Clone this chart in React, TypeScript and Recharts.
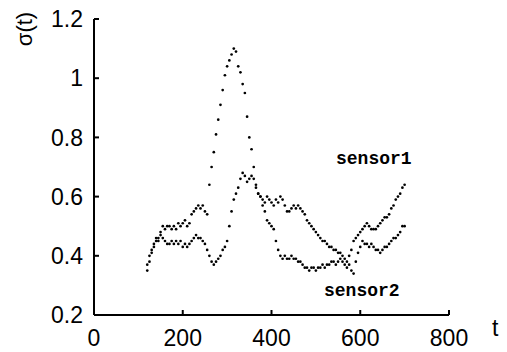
import React from 'react';
import { ScatterChart, Scatter, XAxis, YAxis } from 'recharts';

// sample times (t)
const times = [
  120, 125, 130, 135, 140, 145, 150, 155, 160, 165, 170, 175, 180, 185, 190, 195,
  200, 205, 210, 215, 220, 225, 230, 235, 240, 245, 250, 255, 260, 265, 270, 275,
  280, 285, 290, 295, 300, 305, 310, 315, 320, 325, 330, 335, 340, 345, 350, 355,
  360, 365, 370, 375, 380, 385, 390, 395, 400, 405, 410, 415, 420, 425, 430, 435,
  440, 445, 450, 455, 460, 465, 470, 475, 480, 485, 490, 495, 500, 505, 510, 515,
  520, 525, 530, 535, 540, 545, 550, 555, 560, 565, 570, 575, 580, 585, 590, 595,
  600, 605, 610, 615, 620, 625, 630, 635, 640, 645, 650, 655, 660, 665, 670, 675,
  680, 685, 690, 695, 700,
];

const sensor1 = [
  0.37, 0.40, 0.41, 0.43, 0.45, 0.46, 0.48, 0.50, 0.49, 0.50, 0.50, 0.49, 0.50, 0.49, 0.51, 0.50,
  0.51, 0.52, 0.50, 0.51, 0.54, 0.55, 0.56, 0.57, 0.56, 0.57, 0.55, 0.54, 0.64, 0.70, 0.75, 0.81,
  0.86, 0.91, 0.96, 1.01, 1.04, 1.06, 1.08, 1.10, 1.09, 1.04, 1.02, 0.98, 0.95, 0.87, 0.80, 0.76,
  0.70, 0.64, 0.61, 0.60, 0.59, 0.58, 0.60, 0.59, 0.58, 0.57, 0.59, 0.58, 0.60, 0.59, 0.57, 0.55,
  0.55, 0.56, 0.57, 0.56, 0.57, 0.56, 0.55, 0.54, 0.52, 0.51, 0.50, 0.49, 0.48, 0.47, 0.46, 0.45,
  0.45, 0.44, 0.43, 0.43, 0.42, 0.42, 0.41, 0.41, 0.40, 0.39, 0.38, 0.40, 0.42, 0.45, 0.46, 0.47,
  0.48, 0.49, 0.50, 0.51, 0.50, 0.49, 0.49, 0.49, 0.50, 0.51, 0.52, 0.53, 0.53, 0.54, 0.56, 0.57,
  0.59, 0.60, 0.61, 0.63, 0.64,
];

const sensor2 = [
  0.35, 0.38, 0.42, 0.44, 0.46, 0.45, 0.47, 0.46, 0.45, 0.44, 0.44, 0.45, 0.44, 0.45, 0.44, 0.45,
  0.43, 0.44, 0.43, 0.44, 0.45, 0.46, 0.47, 0.46, 0.46, 0.45, 0.44, 0.42, 0.40, 0.38, 0.37, 0.38,
  0.39, 0.40, 0.42, 0.43, 0.45, 0.50, 0.55, 0.59, 0.61, 0.63, 0.66, 0.68, 0.67, 0.65, 0.66, 0.67,
  0.66, 0.63, 0.61, 0.60, 0.57, 0.55, 0.52, 0.51, 0.50, 0.49, 0.45, 0.42, 0.40, 0.39, 0.40, 0.39,
  0.39, 0.40, 0.39, 0.39, 0.38, 0.38, 0.37, 0.36, 0.36, 0.35, 0.36, 0.36, 0.35, 0.36, 0.36, 0.37,
  0.36, 0.37, 0.37, 0.38, 0.38, 0.37, 0.38, 0.39, 0.38, 0.37, 0.36, 0.37, 0.35, 0.34, 0.38, 0.41,
  0.43, 0.45, 0.44, 0.44, 0.43, 0.44, 0.43, 0.42, 0.42, 0.41, 0.42, 0.43, 0.43, 0.44, 0.45, 0.46,
  0.46, 0.47, 0.48, 0.50, 0.50,
];

const xTicks = [0, 200, 400, 600, 800];
const yTicks = [0.2, 0.4, 0.6, 0.8, 1, 1.2];

const s1Data = times.map((t, i) => ({ t, v: sensor1[i] }));
const s2Data = times.map((t, i) => ({ t, v: sensor2[i] }));

const FONT = 'Arial, "Liberation Sans", sans-serif';
const MONO = '"Liberation Mono", "Courier New", monospace';

const Dot = (props: any) => <circle cx={props.cx} cy={props.cy} r={1.35} fill="#000" />;

// label plus a short inward tick mark, drawn from the tick's own position
const YTick = (props: any) => {
  const { x, y, payload } = props;
  return (
    <g>
      <path d={`M${x + 11},${y}h5`} stroke="#000" strokeWidth={2} fill="none" />
      <text x={x} y={y} dy="0.36em" textAnchor="end" fontSize={23} fontFamily={FONT} fill="#000">
        {String(payload.value)}
      </text>
    </g>
  );
};

const XTick = (props: any) => {
  const { x, y, payload } = props;
  return (
    <g>
      <path d={`M${x},${y - 2}v-5`} stroke="#000" strokeWidth={2} fill="none" />
      <text x={x} y={y + 29} textAnchor="middle" fontSize={23} fontFamily={FONT} fill="#000">
        {String(payload.value)}
      </text>
    </g>
  );
};

const label: React.CSSProperties = { position: 'absolute', color: '#000', lineHeight: 1, whiteSpace: 'nowrap' };

export default function App() {
  return (
    <div style={{ position: 'absolute', left: 0, top: 0, width: 507, height: 352, background: '#fff' }}>
      <ScatterChart width={507} height={352} margin={{ top: 19, right: 58, bottom: 7, left: 34 }}>
        <XAxis
          type="number"
          dataKey="t"
          domain={[0, 800]}
          ticks={xTicks}
          height={30}
          tickSize={0}
          tickMargin={2}
          tickLine={false}
          axisLine={{ stroke: '#000', strokeWidth: 2 }}
          tick={<XTick />}
          interval={0}
        />
        <YAxis
          type="number"
          dataKey="v"
          domain={[0.2, 1.2]}
          ticks={yTicks}
          width={60}
          tickSize={0}
          tickMargin={11}
          tickLine={false}
          axisLine={{ stroke: '#000', strokeWidth: 2 }}
          tick={<YTick />}
          interval={0}
        />
        <Scatter name="sensor1" data={s1Data} shape={<Dot />} isAnimationActive={false} />
        <Scatter name="sensor2" data={s2Data} shape={<Dot />} isAnimationActive={false} />
      </ScatterChart>
      <div
        style={{
          ...label,
          left: 8,
          top: 18,
          fontFamily: FONT,
          fontSize: 22,
          transform: 'rotate(-90deg)',
          transformOrigin: 'center',
        }}
      >
        σ(t)
      </div>
      <div style={{ ...label, left: 492, top: 317, fontFamily: FONT, fontSize: 23 }}>t</div>
      <div style={{ ...label, left: 336, top: 150, fontFamily: MONO, fontSize: 18, fontWeight: 'bold' }}>sensor1</div>
      <div style={{ ...label, left: 324, top: 282, fontFamily: MONO, fontSize: 18, fontWeight: 'bold' }}>sensor2</div>
    </div>
  );
}
